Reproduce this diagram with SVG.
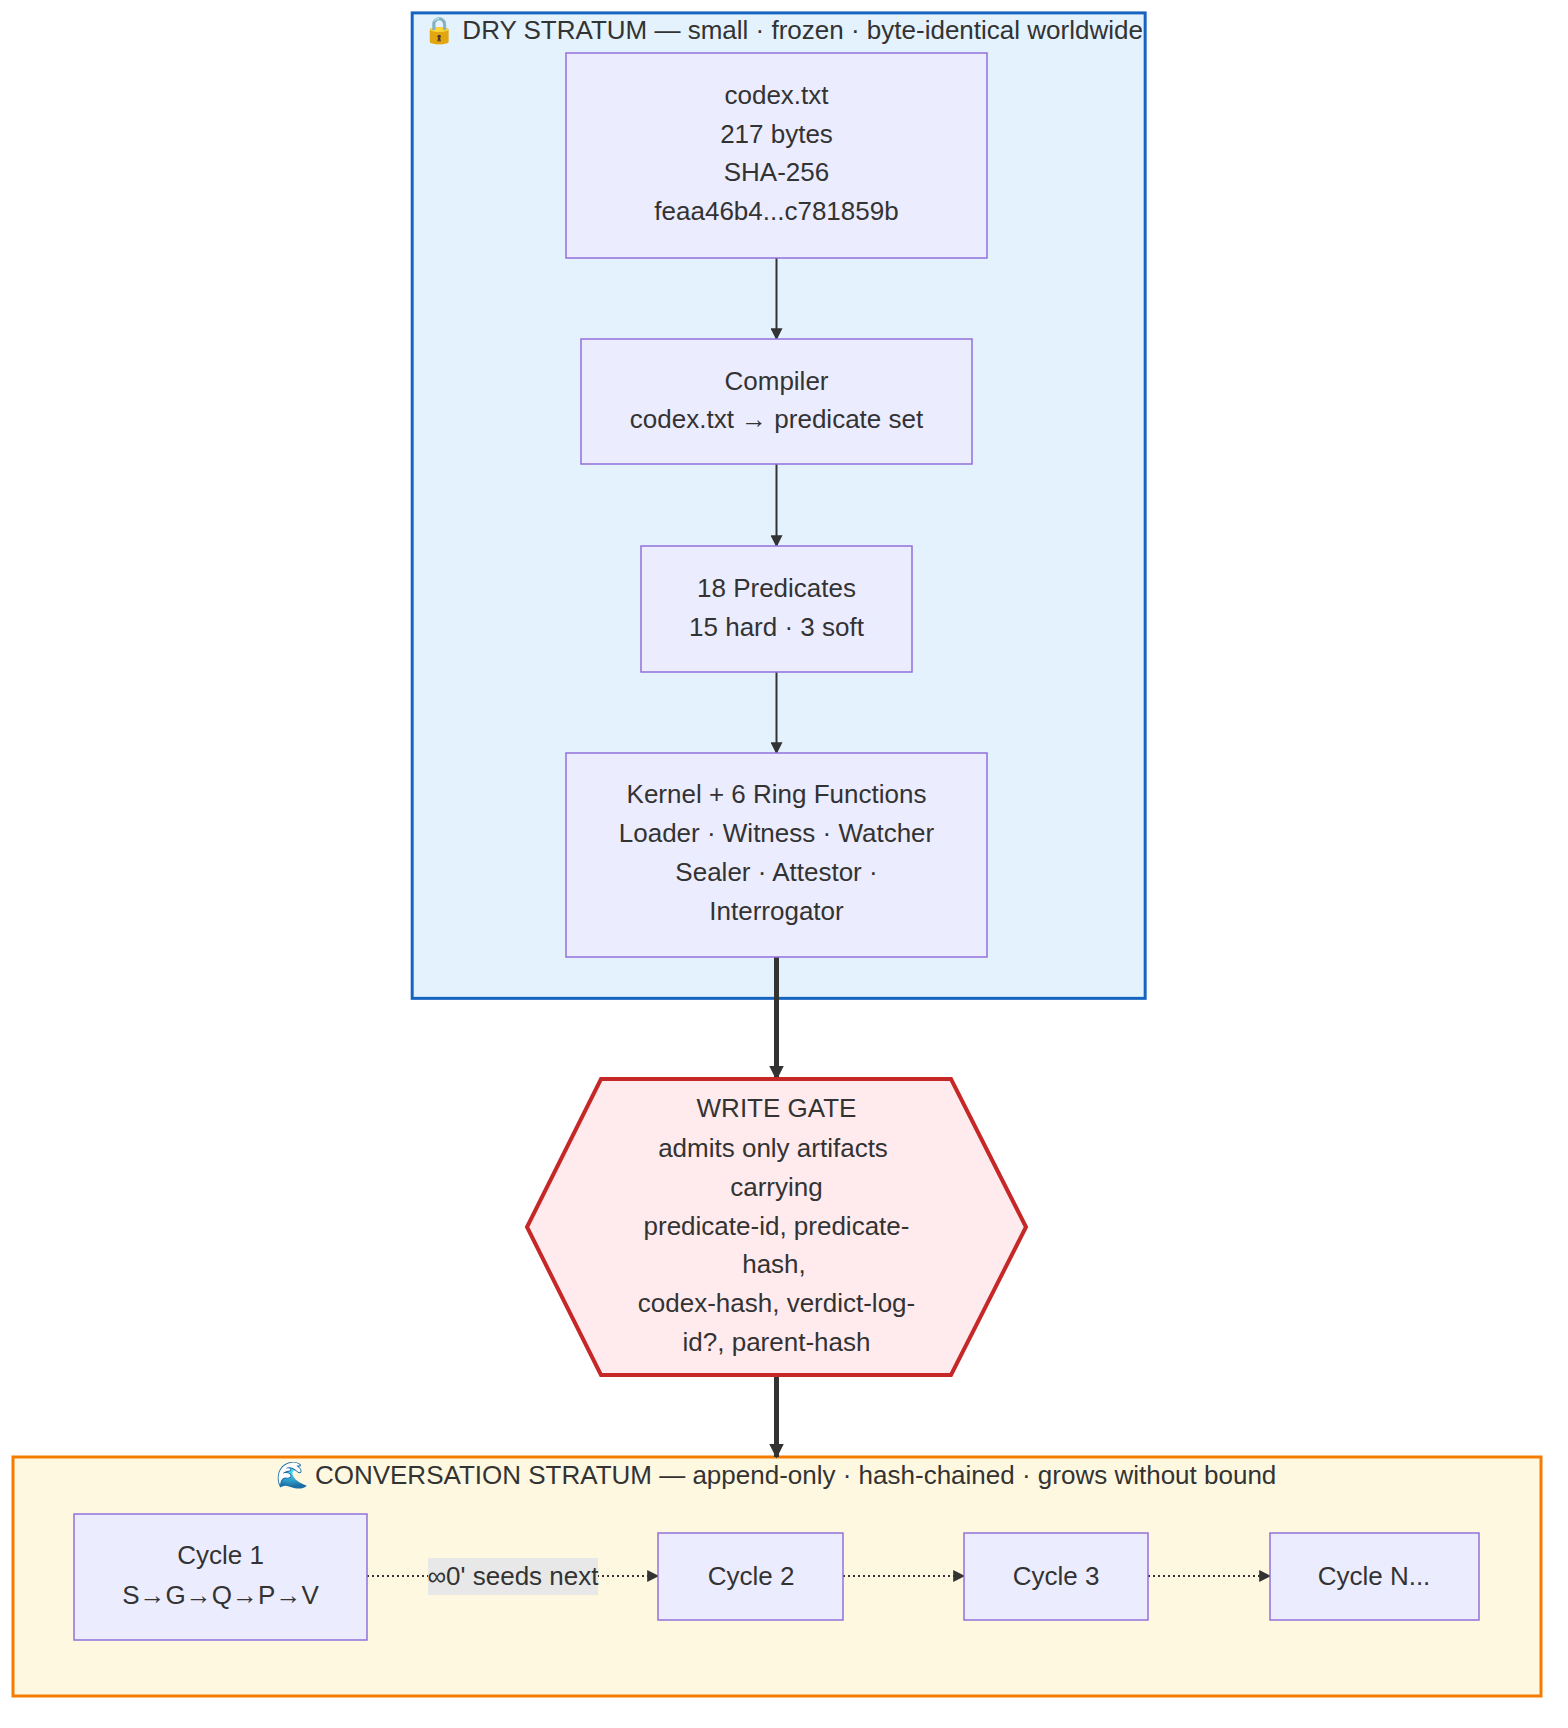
<svg xmlns="http://www.w3.org/2000/svg" width="1568" height="1728" viewBox="0 0 1568 1728">
<style>
text{font-family:"Liberation Sans",Arial,sans-serif;font-size:26px;fill:#333;text-anchor:middle;dominant-baseline:central}
.n{fill:#ECECFF;stroke:#9370DB;stroke-width:1.5}
.e{fill:none;stroke:#333;stroke-width:2}
.d{fill:none;stroke:#333;stroke-width:2;stroke-dasharray:2 3}
.t{fill:none;stroke:#333;stroke-width:5}
</style>
<defs>
<marker id="a" viewBox="0 0 10 10" refX="9" refY="5" markerWidth="6" markerHeight="6" orient="auto"><path d="M0,0L10,5L0,10z" fill="#333"/></marker>
<marker id="b" viewBox="0 0 10 10" refX="9" refY="5" markerWidth="3" markerHeight="3" orient="auto"><path d="M0,0L10,5L0,10z" fill="#333"/></marker>
</defs>
<rect width="1568" height="1728" fill="#fff"/>
<g id="dry">
<rect x="414" y="13" width="738" height="993" fill="#E3F2FD" stroke="#1565C0" stroke-width="3" transform="matrix(0.9932 0 0 0.9924 1 0)"/>
<text x="783" y="30">🔒 DRY STRATUM — small · frozen · byte-identical worldwide</text>
</g>
<g id="conv">
<rect x="13" y="1457" width="1528" height="239" fill="#FFF8E1" stroke="#F57C00" stroke-width="3"/>
<text x="776" y="1475">🌊 CONVERSATION STRATUM — append-only · hash-chained · grows without bound</text>
</g>
<g id="edges">
<path class="e" d="M776.5,258V339" marker-end="url(#a)"/>
<path class="e" d="M776.5,464V546" marker-end="url(#a)"/>
<path class="e" d="M776.5,672V753" marker-end="url(#a)"/>
<path class="t" d="M776.5,957V1079" marker-end="url(#b)"/>
<path class="t" d="M776.5,1375V1457" marker-end="url(#b)"/>
<path class="d" d="M367,1576H658" marker-end="url(#a)"/>
<path class="d" d="M843,1576H964" marker-end="url(#a)"/>
<path class="d" d="M1148,1576H1270" marker-end="url(#a)"/>
<rect x="428" y="1558" width="170" height="37" fill="#e8e8e8"/>
<text x="513" y="1576">∞0' seeds next</text>
</g>
<g id="codex"><rect class="n" x="566" y="53" width="421" height="205"/>
<text x="776.5" y="95">codex.txt</text><text x="776.5" y="134">217 bytes</text><text x="776.5" y="172">SHA-256</text><text x="776.5" y="211">feaa46b4...c781859b</text></g>
<g id="compiler"><rect class="n" x="581" y="339" width="391" height="125"/>
<text x="776.5" y="381">Compiler</text><text x="776.5" y="419">codex.txt → predicate set</text></g>
<g id="predicates"><rect class="n" x="641" y="546" width="271" height="126"/>
<text x="776.5" y="588">18 Predicates</text><text x="776.5" y="627">15 hard · 3 soft</text></g>
<g id="kernel"><rect class="n" x="566" y="753" width="421" height="204"/>
<text x="776.5" y="794">Kernel + 6 Ring Functions</text><text x="776.5" y="833">Loader · Witness · Watcher</text><text x="776.5" y="872">Sealer · Attestor ·</text><text x="776.5" y="911">Interrogator</text></g>
<g id="gate"><polygon points="601,1079 951,1079 1026,1227 951,1375 601,1375 527,1227" fill="#FFEBEE" stroke="#C62828" stroke-width="4"/>
<text x="776.5" y="1108">WRITE GATE</text><text x="773" y="1148">admits only artifacts</text><text x="776.5" y="1187">carrying</text><text x="776.5" y="1226">predicate-id, predicate-</text><text x="774" y="1264">hash,</text><text x="776.5" y="1303">codex-hash, verdict-log-</text><text x="776.5" y="1342">id?, parent-hash</text></g>
<g id="c1"><rect class="n" x="74" y="1514" width="293" height="126"/><text x="220.5" y="1555">Cycle 1</text><text x="220.5" y="1595">S→G→Q→P→V</text></g>
<g id="c2"><rect class="n" x="658" y="1533" width="185" height="87"/><text x="751" y="1576">Cycle 2</text></g>
<g id="c3"><rect class="n" x="964" y="1533" width="184" height="87"/><text x="1056" y="1576">Cycle 3</text></g>
<g id="cn"><rect class="n" x="1270" y="1533" width="209" height="87"/><text x="1374" y="1576">Cycle N...</text></g>
</svg>
